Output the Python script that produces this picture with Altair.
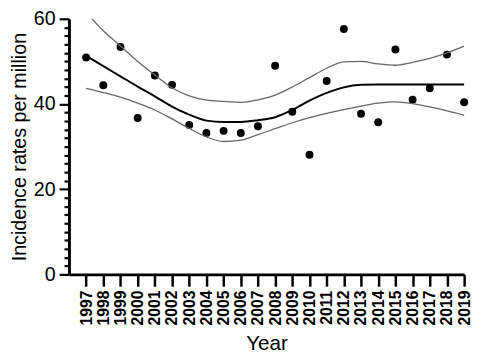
import altair as alt
import pandas as pd

years = list(range(1997, 2020))
rates = [50.9, 44.4, 53.4, 36.7, 46.7, 44.5, 35.1, 33.2, 33.7, 33.2, 34.8, 49.0,
         38.2, 28.1, 45.4, 57.6, 37.7, 35.7, 52.8, 41.0, 43.7, 51.6, 40.4]
fit_mid = [51.3, 48.9, 46.5, 44.1, 41.8, 39.4, 37.5, 36.1, 35.8, 35.8, 36.2, 36.9,
           38.6, 40.8, 42.6, 43.9, 44.5, 44.6, 44.6, 44.6, 44.6, 44.6, 44.6]
fit_upper = [61.5, 57.2, 53.6, 50.0, 46.8, 43.8, 41.9, 40.9, 40.6, 40.4, 41.0, 42.1,
             44.0, 46.2, 48.4, 49.9, 50.0, 49.4, 49.1, 49.8, 50.7, 52.0, 53.6]
fit_lower = [43.7, 42.7, 41.6, 40.2, 38.6, 36.5, 34.3, 32.3, 31.2, 31.5, 32.8, 34.2,
             35.6, 36.8, 37.8, 38.7, 39.5, 40.2, 40.5, 40.1, 39.3, 38.4, 37.4]
y_ticks = list(range(0, 61, 2))

rows = []
for name, vals in [("Rate", rates), ("Mid", fit_mid), ("Upper", fit_upper), ("Lower", fit_lower)]:
    for yr, v in zip(years, vals):
        rows.append({"Year": yr, "value": v, "series": name})
df = pd.DataFrame(rows)

FONT = "Liberation Sans"

xscale = alt.Scale(domain=[1996, 2019], nice=False, zero=False)
yscale = alt.Scale(domain=[0, 60], nice=False)

xaxis = alt.Axis(values=years, format="d", labelAngle=-90, labelFontSize=16,
                 labelFontWeight="bold",
                 labelFont=FONT, labelColor="black", labelPadding=4,
                 labelOverlap=False,
                 tickSize=12, tickWidth=2.5, tickColor="black",
                 domainWidth=3, domainColor="black", grid=False,
                 title="Year", titleFontSize=21, titleFont=FONT,
                 titleFontWeight="normal", titlePadding=8, titleColor="black",
                 labelAlign="right", labelBaseline="middle")
yaxis = alt.Axis(values=y_ticks, labelFontSize=20, labelFont=FONT,
                 labelExpr="datum.value % 20 === 0 ? datum.label : ''",
                 labelOverlap=False,
                 labelColor="black", labelPadding=4,
                 tickSize={"condition": {"test": "datum.value % 20 === 0", "value": 10}, "value": 5},
                 tickWidth=2.2,
                 tickColor="black", domainWidth=3, domainColor="black", grid=False,
                 title="Incidence rates per million", titleFontSize=20,
                 titleFont=FONT, titleFontWeight="normal", titlePadding=4,
                 titleColor="black")

points = alt.Chart().mark_circle(size=65, color="black", opacity=1).transform_filter(
    alt.datum.series == "Rate")
mid = alt.Chart().mark_line(color="black", strokeWidth=2, interpolate="monotone").transform_filter(
    alt.datum.series == "Mid")
upper = alt.Chart().mark_line(color="#666666", strokeWidth=1.3, interpolate="monotone",
                              clip=True).transform_filter(alt.datum.series == "Upper")
lower = alt.Chart().mark_line(color="#666666", strokeWidth=1.3, interpolate="monotone").transform_filter(
    alt.datum.series == "Lower")

chart = alt.layer(points, mid, upper, lower, data=df).encode(
    x=alt.X("Year:Q", scale=xscale, axis=xaxis),
    y=alt.Y("value:Q", scale=yscale, axis=yaxis),
).properties(
    width=402, height=260,
    autosize=alt.AutoSizeParams(type="none"),
    padding={"left": 62, "top": 8, "right": 8, "bottom": 80},
).configure_view(stroke=None)

chart.save("out.html", embed_options={"renderer": "svg", "actions": False})
